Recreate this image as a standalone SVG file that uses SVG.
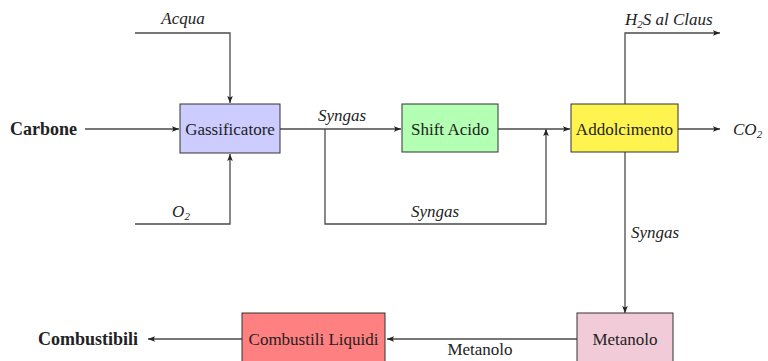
<svg xmlns="http://www.w3.org/2000/svg" width="768" height="361" viewBox="0 0 768 361" font-family="'Liberation Serif', 'Times New Roman', Times, serif">
<style>
.box{stroke:#333;stroke-width:1}
.ln{fill:none;stroke:#4a4a4a;stroke-width:1.3}
text{font-family:'Liberation Serif','Times New Roman',Times,serif;font-size:17px;fill:#222}
.it{font-style:italic}
.b{font-weight:bold;font-size:18px}
.m{text-anchor:middle}
</style>
<defs>
<marker id="ar" viewBox="0 0 10 10" refX="10" refY="5" markerWidth="7" markerHeight="7" markerUnits="userSpaceOnUse" orient="auto">
<path d="M0,1 L10,5 L0,9 L2,5 Z" fill="#222"/>
</marker>
</defs>
<rect width="768" height="361" fill="#fff"/>
<g id="connectors">
<path class="ln" d="M85,129 H179" marker-end="url(#ar)"/>
<path class="ln" d="M135,33 H230 V103" marker-end="url(#ar)"/>
<path class="ln" d="M135,224 H230 V154" marker-end="url(#ar)"/>
<path class="ln" d="M280,129 H401" marker-end="url(#ar)"/>
<path class="ln" d="M325,129 V224 H546 V129" marker-end="url(#ar)"/>
<path class="ln" d="M498,129 H570" marker-end="url(#ar)"/>
<path class="ln" d="M678,129 H720" marker-end="url(#ar)"/>
<path class="ln" d="M625,104 V33 H720" marker-end="url(#ar)"/>
<path class="ln" d="M625,152 V313" marker-end="url(#ar)"/>
<path class="ln" d="M577,339 H387" marker-end="url(#ar)"/>
<path class="ln" d="M242,339 H148" marker-end="url(#ar)"/>
<text class="it m" x="183" y="24">Acqua</text>
<text class="it m" x="181" y="217">O<tspan font-size="11" dy="3">2</tspan></text>
<text class="it m" x="342" y="121">Syngas</text>
<text class="it m" x="435" y="217">Syngas</text>
<text class="it" x="631" y="238">Syngas</text>
<text class="it" x="625" y="25">H<tspan font-size="11" dy="3">2</tspan><tspan dy="-3">S al Claus</tspan></text>
<text class="it" x="733" y="135">CO<tspan font-size="11" dy="3">2</tspan></text>
<text class="m" x="480" y="355">Metanolo</text>
</g>
<g id="carbone"><text class="b" x="10" y="135">Carbone</text></g>
<g id="combustibili"><text class="b" x="38" y="345">Combustibili</text></g>
<g id="gassificatore">
<rect class="box" x="180" y="104" width="100" height="49" fill="#ccccff"/>
<text class="m" x="230" y="135">Gassificatore</text>
</g>
<g id="shift">
<rect class="box" x="402" y="104" width="96" height="48" fill="#b3ffb3"/>
<text class="m" x="450" y="135">Shift Acido</text>
</g>
<g id="addolcimento">
<rect class="box" x="571" y="104" width="107" height="48" fill="#fff44f"/>
<text class="m" x="624.5" y="135">Addolcimento</text>
</g>
<g id="metanolo">
<rect class="box" x="577" y="313" width="96" height="50" fill="#f2cbd9"/>
<text class="m" x="625" y="345">Metanolo</text>
</g>
<g id="liquidi">
<rect class="box" x="242" y="313" width="143" height="50" fill="#ff8080"/>
<text class="m" x="313.5" y="345">Combustili Liquidi</text>
</g>
</svg>
